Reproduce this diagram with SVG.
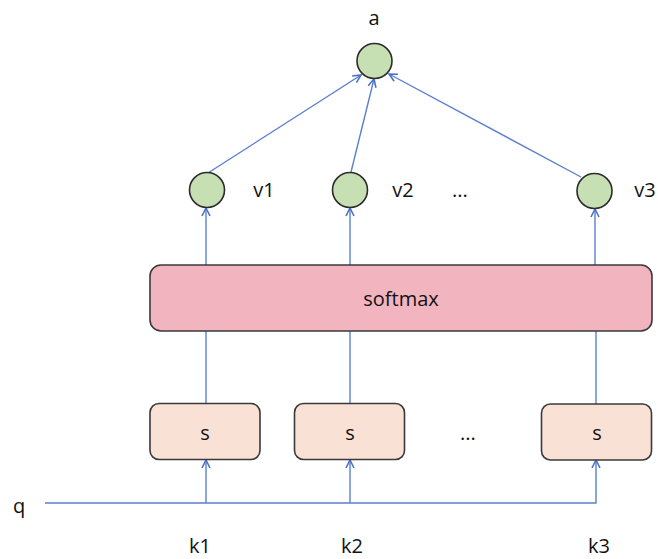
<svg xmlns="http://www.w3.org/2000/svg" width="658" height="559" viewBox="0 0 658 559">
<defs>
<marker id="arr" viewBox="0 0 10 10" refX="9" refY="5" markerWidth="10" markerHeight="10" markerUnits="userSpaceOnUse" orient="auto">
<path d="M1,1 L9,5 L1,9" fill="none" stroke="#4a72c8" stroke-width="1.6"/>
</marker>
</defs>
<style>
text{font-family:"Open Sans","Noto Sans","Liberation Sans",sans-serif;font-size:20px;fill:#111;text-anchor:middle;dominant-baseline:central}
.c{fill:#c6e0b4;stroke:#2b2b2b;stroke-width:1.6}
.sm{fill:#f2b5c0;stroke:#3a3a3a;stroke-width:1.6}
.s{fill:#fae1d6;stroke:#3a3a3a;stroke-width:1.6}
.e{fill:none;stroke:#5a7fd0;stroke-width:1.4}
</style>
<rect width="658" height="559" fill="#fff"/>
<g id="connectors">
<line class="e" x1="208" y1="173" x2="361" y2="75" marker-end="url(#arr)"/>
<line class="e" x1="351" y1="172" x2="374" y2="79" marker-end="url(#arr)"/>
<line class="e" x1="581" y1="177" x2="389" y2="74" marker-end="url(#arr)"/>
<line class="e" x1="206" y1="265" x2="206" y2="208" marker-end="url(#arr)"/>
<line class="e" x1="350" y1="265" x2="350" y2="208" marker-end="url(#arr)"/>
<line class="e" x1="595" y1="265" x2="595" y2="209" marker-end="url(#arr)"/>
<line class="e" x1="206" y1="403" x2="206" y2="331"/>
<line class="e" x1="350" y1="403" x2="350" y2="331"/>
<line class="e" x1="596" y1="404" x2="596" y2="331"/>
<polyline class="e" points="45,503 596,503 596,460" marker-end="url(#arr)"/>
<line class="e" x1="206" y1="503" x2="206" y2="460" marker-end="url(#arr)"/>
<line class="e" x1="350" y1="503" x2="350" y2="460" marker-end="url(#arr)"/>
</g>
<g id="a"><circle class="c" cx="374.5" cy="61" r="17.5"/><text x="374" y="17">a</text></g>
<g id="v1"><circle class="c" cx="207" cy="190" r="17.5"/><text x="264" y="189">v1</text></g>
<g id="v2"><circle class="c" cx="350" cy="190" r="17.5"/><text x="403" y="189">v2</text></g>
<g id="vdots"><text x="460" y="189">...</text></g>
<g id="v3"><circle class="c" cx="594.5" cy="191" r="17.5"/><text x="645" y="189">v3</text></g>
<g id="softmax"><rect class="sm" x="150" y="265" width="502" height="66" rx="11"/><text x="401" y="298">softmax</text></g>
<g id="s1"><rect class="s" x="150" y="403.5" width="110" height="56" rx="9"/><text x="205" y="432">s</text></g>
<g id="s2"><rect class="s" x="294.5" y="403.5" width="110" height="56" rx="9"/><text x="350" y="432">s</text></g>
<g id="sdots"><text x="468" y="432">...</text></g>
<g id="s3"><rect class="s" x="541.5" y="404" width="110" height="56" rx="9"/><text x="597" y="432">s</text></g>
<g id="q"><text x="19" y="505">q</text></g>
<g id="k1"><text x="200" y="545">k1</text></g>
<g id="k2"><text x="352" y="545">k2</text></g>
<g id="k3"><text x="599" y="545">k3</text></g>
</svg>
